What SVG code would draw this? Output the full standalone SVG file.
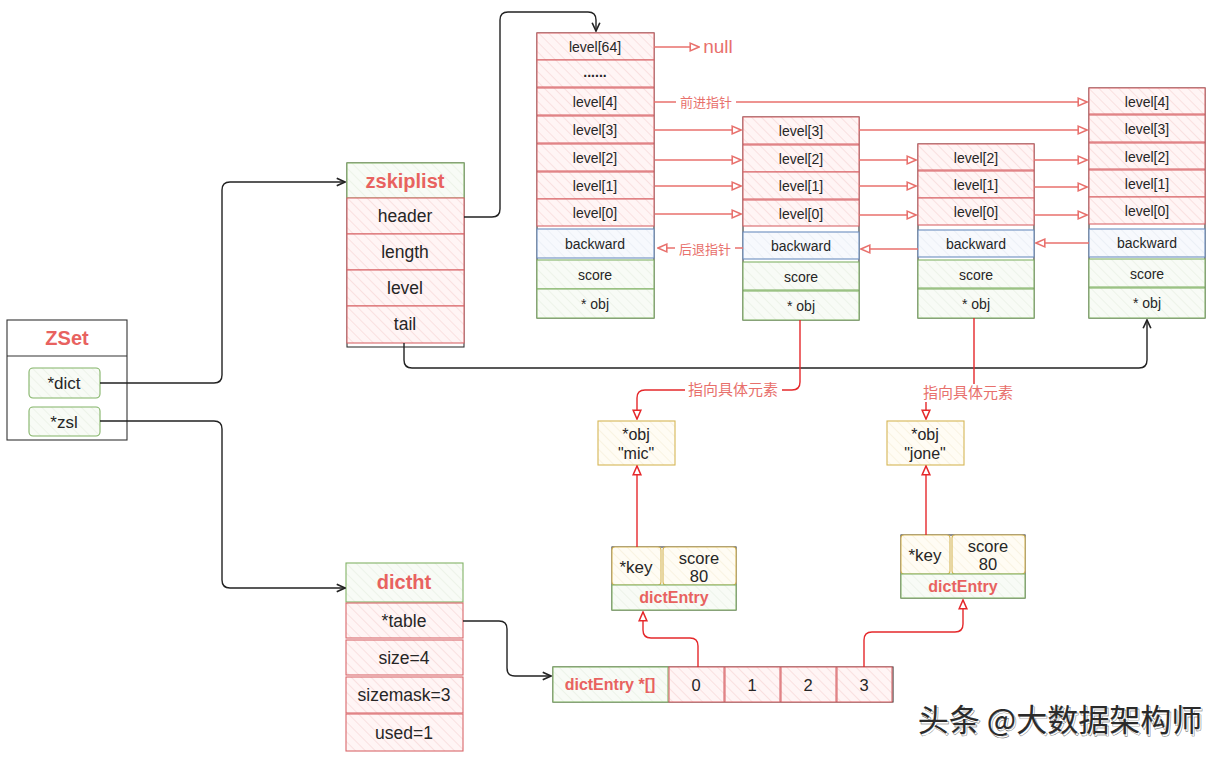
<svg xmlns="http://www.w3.org/2000/svg" width="1224" height="759" viewBox="0 0 1224 759">
<defs>
<pattern id="hR" patternUnits="userSpaceOnUse" width="7" height="7" patternTransform="rotate(-45)">
<rect width="7" height="7" fill="#fff5f5"/><line x1="0" y1="0" x2="0" y2="7" stroke="#f3cccc" stroke-width="1"/>
</pattern>
<pattern id="hG" patternUnits="userSpaceOnUse" width="7" height="7" patternTransform="rotate(-45)">
<rect width="7" height="7" fill="#f8fbf6"/><line x1="0" y1="0" x2="0" y2="7" stroke="#e2ebdd" stroke-width="1"/>
</pattern>
<pattern id="hB" patternUnits="userSpaceOnUse" width="7" height="7" patternTransform="rotate(-45)">
<rect width="7" height="7" fill="#f7f9fd"/><line x1="0" y1="0" x2="0" y2="7" stroke="#e1e7f0" stroke-width="1"/>
</pattern>
<pattern id="hY" patternUnits="userSpaceOnUse" width="7" height="7" patternTransform="rotate(-45)">
<rect width="7" height="7" fill="#fffcf4"/><line x1="0" y1="0" x2="0" y2="7" stroke="#f3ead0" stroke-width="1"/>
</pattern>
<marker id="aR" viewBox="0 0 10 10" refX="9" refY="5" markerWidth="11" markerHeight="11" markerUnits="userSpaceOnUse" orient="auto">
<path d="M1,1.5 L9,5 L1,8.5 Z" fill="#fff" stroke="#e8706c" stroke-width="1.4"/>
</marker>
<marker id="aRR" viewBox="0 0 10 10" refX="9" refY="5" markerWidth="11" markerHeight="11" markerUnits="userSpaceOnUse" orient="auto">
<path d="M1,1.5 L9,5 L1,8.5 Z" fill="#fff" stroke="#e5282b" stroke-width="1.4"/>
</marker>
<marker id="aK" viewBox="0 0 10 10" refX="9" refY="5" markerWidth="11" markerHeight="11" markerUnits="userSpaceOnUse" orient="auto">
<path d="M1.5,1.5 L9,5 L1.5,8.5" fill="none" stroke="#222" stroke-width="1.5"/>
</marker>
</defs>
<style>
text{font-family:"Liberation Sans",Arial,"Noto Sans CJK SC",sans-serif;fill:#262626;}
.t13{font-size:14px;text-anchor:middle;}
.t16{font-size:17.5px;text-anchor:middle;}
.t15{font-size:16.5px;text-anchor:middle;}
.ttl{font-size:20px;font-weight:bold;fill:#e8625f;text-anchor:middle;}
.ttl15{font-size:16px;font-weight:bold;fill:#e8625f;text-anchor:middle;}
.cn{font-family:"Noto Sans CJK SC","Liberation Sans",sans-serif;fill:#e8706c;text-anchor:middle;}
.r{fill:url(#hR);stroke:#d9666a;stroke-width:1.1;}
.g{fill:url(#hG);stroke:#82b366;stroke-width:1.1;}
.b{fill:url(#hB);stroke:#6c8ebf;stroke-width:1.1;}
.y{fill:url(#hY);stroke:#d6b656;stroke-width:1.1;}
.w{fill:#fff;stroke:#333;stroke-width:1.1;}
.o{fill:none;stroke:#333;stroke-width:1.1;}
.lk{fill:none;stroke:#222;stroke-width:1.4;}
.lr{fill:none;stroke:#e8706c;stroke-width:1.4;}
.lrr{fill:none;stroke:#e5282b;stroke-width:1.4;}
.bg{fill:#fff;}
</style>

<g id="zset">
<rect class="w" x="7" y="320" width="120" height="120"/>
<line class="o" x1="7" y1="356" x2="127" y2="356"/>
<text class="ttl" x="67" y="345">ZSet</text>
<rect class="g" x="29" y="368" width="71" height="30" rx="4"/>
<text class="t15" x="64" y="389" style="font-size:17px;">*dict</text>
<rect class="g" x="29" y="407" width="71" height="29" rx="4"/>
<text class="t15" x="64" y="428" style="font-size:17px;">*zsl</text>
</g>

<g id="zskiplist">
<rect class="o" x="347" y="163" width="117" height="184"/>
<rect class="g" x="347" y="163" width="117" height="35"/>
<text class="ttl" x="405" y="188">zskiplist</text>
<rect class="r" x="347" y="198" width="117" height="36"/>
<text class="t16" x="405" y="222">header</text>
<rect class="r" x="347" y="234" width="117" height="36"/>
<text class="t16" x="405" y="258">length</text>
<rect class="r" x="347" y="270" width="117" height="36"/>
<text class="t16" x="405" y="294">level</text>
<rect class="r" x="347" y="306" width="117" height="37"/>
<text class="t16" x="405" y="330">tail</text>
</g>

<g id="header-node">
<rect class="o" x="537" y="33" width="117" height="285"/>
<rect class="r" x="537" y="33" width="117" height="27"/>
<text class="t13" x="595" y="52">level[64]</text>
<rect class="r" x="537" y="60" width="117" height="27"/>
<text class="t13" x="595" y="77" style="font-weight:bold;">......</text>
<rect class="r" x="537" y="88" width="117" height="27"/>
<text class="t13" x="595" y="107">level[4]</text>
<rect class="r" x="537" y="116" width="117" height="27"/>
<text class="t13" x="595" y="135">level[3]</text>
<rect class="r" x="537" y="144" width="117" height="27"/>
<text class="t13" x="595" y="163">level[2]</text>
<rect class="r" x="537" y="172" width="117" height="27"/>
<text class="t13" x="595" y="191">level[1]</text>
<rect class="r" x="537" y="199" width="117" height="27"/>
<text class="t13" x="595" y="218">level[0]</text>
<rect class="b" x="537" y="229" width="117" height="29"/>
<text class="t13" x="595" y="249">backward</text>
<rect class="g" x="537" y="260" width="117" height="29"/>
<text class="t13" x="595" y="280">score</text>
<rect class="g" x="537" y="289" width="117" height="29"/>
<text class="t13" x="595" y="309">* obj</text>
</g>

<g id="node-mic">
<rect class="o" x="743" y="117" width="116" height="203"/>
<rect class="r" x="743" y="117" width="116" height="27"/>
<text class="t13" x="801" y="136">level[3]</text>
<rect class="r" x="743" y="145" width="116" height="27"/>
<text class="t13" x="801" y="164">level[2]</text>
<rect class="r" x="743" y="172" width="116" height="27"/>
<text class="t13" x="801" y="191">level[1]</text>
<rect class="r" x="743" y="200" width="116" height="26"/>
<text class="t13" x="801" y="219">level[0]</text>
<rect class="b" x="743" y="232" width="116" height="27"/>
<text class="t13" x="801" y="251">backward</text>
<rect class="g" x="743" y="262" width="116" height="28"/>
<text class="t13" x="801" y="282">score</text>
<rect class="g" x="743" y="291" width="116" height="29"/>
<text class="t13" x="801" y="311">* obj</text>
</g>

<g id="node-jone">
<rect class="o" x="918" y="144" width="116" height="174"/>
<rect class="r" x="918" y="144" width="116" height="26"/>
<text class="t13" x="976" y="163">level[2]</text>
<rect class="r" x="918" y="171" width="116" height="27"/>
<text class="t13" x="976" y="190">level[1]</text>
<rect class="r" x="918" y="198" width="116" height="27"/>
<text class="t13" x="976" y="217">level[0]</text>
<rect class="b" x="918" y="230" width="116" height="27"/>
<text class="t13" x="976" y="249">backward</text>
<rect class="g" x="918" y="260" width="116" height="28"/>
<text class="t13" x="976" y="280">score</text>
<rect class="g" x="918" y="289" width="116" height="29"/>
<text class="t13" x="976" y="309">* obj</text>
</g>

<g id="node-tail">
<rect class="o" x="1089" y="88" width="116" height="230"/>
<rect class="r" x="1089" y="88" width="116" height="26"/>
<text class="t13" x="1147" y="107">level[4]</text>
<rect class="r" x="1089" y="115" width="116" height="27"/>
<text class="t13" x="1147" y="134">level[3]</text>
<rect class="r" x="1089" y="143" width="116" height="26"/>
<text class="t13" x="1147" y="162">level[2]</text>
<rect class="r" x="1089" y="170" width="116" height="27"/>
<text class="t13" x="1147" y="189">level[1]</text>
<rect class="r" x="1089" y="197" width="116" height="27"/>
<text class="t13" x="1147" y="216">level[0]</text>
<rect class="b" x="1089" y="229" width="116" height="28"/>
<text class="t13" x="1147" y="248">backward</text>
<rect class="g" x="1089" y="259" width="116" height="28"/>
<text class="t13" x="1147" y="279">score</text>
<rect class="g" x="1089" y="288" width="116" height="30"/>
<text class="t13" x="1147" y="308">* obj</text>
</g>

<g id="obj-mic">
<rect class="y" x="598" y="421" width="77" height="44"/>
<text class="t15" x="636" y="440" style="font-size:16px;">*obj</text>
<text class="t15" x="636" y="459" style="font-size:16px;">"mic"</text>
</g>

<g id="obj-jone">
<rect class="y" x="887" y="421" width="77" height="44"/>
<text class="t15" x="925" y="440" style="font-size:16px;">*obj</text>
<text class="t15" x="925" y="459" style="font-size:16px;">"jone"</text>
</g>

<g id="dictentry-mic">
<rect class="o" x="612" y="547" width="124" height="63"/>
<rect class="y" x="612" y="547" width="49" height="38" rx="3"/>
<text class="t15" x="636" y="573" style="font-size:17px;">*key</text>
<rect class="y" x="663" y="547" width="73" height="38" rx="3"/>
<text class="t15" x="699" y="564">score</text>
<text class="t15" x="699" y="582">80</text>
<rect class="g" x="612" y="585" width="124" height="25"/>
<text class="ttl15" x="674" y="603">dictEntry</text>
</g>

<g id="dictentry-jone">
<rect class="o" x="901" y="535" width="124" height="63"/>
<rect class="y" x="901" y="535" width="49" height="39" rx="3"/>
<text class="t15" x="925" y="561" style="font-size:17px;">*key</text>
<rect class="y" x="952" y="535" width="73" height="39" rx="3"/>
<text class="t15" x="988" y="552">score</text>
<text class="t15" x="988" y="570">80</text>
<rect class="g" x="901" y="574" width="124" height="24"/>
<text class="ttl15" x="963" y="592">dictEntry</text>
</g>

<g id="dictht">
<rect class="g" x="346" y="563" width="117" height="39"/>
<text class="ttl" x="404" y="589">dictht</text>
<rect class="r" x="346" y="603" width="117" height="35"/>
<text class="t16" x="404" y="627">*table</text>
<rect class="r" x="346" y="640" width="117" height="35"/>
<text class="t16" x="404" y="664">size=4</text>
<rect class="r" x="346" y="677" width="117" height="36"/>
<text class="t16" x="404" y="701">sizemask=3</text>
<rect class="r" x="346" y="714" width="117" height="37"/>
<text class="t16" x="404" y="739">used=1</text>
</g>

<g id="table-array">
<rect class="o" x="553" y="667" width="340" height="35"/>
<rect class="g" x="553" y="667" width="115" height="35"/>
<text class="ttl15" x="610" y="690">dictEntry *[]</text>
<rect class="r" x="669" y="667" width="55" height="35"/>
<text class="t15" x="696" y="691">0</text>
<rect class="r" x="725" y="667" width="55" height="35"/>
<text class="t15" x="752" y="691">1</text>
<rect class="r" x="781" y="667" width="55" height="35"/>
<text class="t15" x="808" y="691">2</text>
<rect class="r" x="837" y="667" width="55" height="35"/>
<text class="t15" x="864" y="691">3</text>
</g>

<g id="connectors">
<path class="lk" d="M100,383 H214 Q222,383 222,375 V190 Q222,182 230,182 H345" marker-end="url(#aK)"/>
<path class="lk" d="M100,421 H214 Q222,421 222,429 V580 Q222,588 230,588 H345" marker-end="url(#aK)"/>
<path class="lk" d="M464,217 H492 Q500,217 500,209 V20 Q500,12 508,12 H588 Q596,12 596,20 V31" marker-end="url(#aK)"/>
<path class="lk" d="M404,343 V360 Q404,368 412,368 H1139 Q1147,368 1147,360 V320" marker-end="url(#aK)"/>
<path class="lk" d="M463,621 H499 Q507,621 507,629 V668 Q507,676 515,676 H551" marker-end="url(#aK)"/>

<path class="lr" d="M654,47 H699" marker-end="url(#aR)"/>
<path class="lr" d="M654,102 H1087" marker-end="url(#aR)"/>
<path class="lr" d="M654,130 H741" marker-end="url(#aR)"/>
<path class="lr" d="M655,160 H741" marker-end="url(#aR)"/>
<path class="lr" d="M655,186 H741" marker-end="url(#aR)"/>
<path class="lr" d="M655,214 H741" marker-end="url(#aR)"/>
<path class="lr" d="M859,130 H1087" marker-end="url(#aR)"/>
<path class="lr" d="M859,160 H916" marker-end="url(#aR)"/>
<path class="lr" d="M859,186 H916" marker-end="url(#aR)"/>
<path class="lr" d="M859,215 H916" marker-end="url(#aR)"/>
<path class="lr" d="M1034,160 H1087" marker-end="url(#aR)"/>
<path class="lr" d="M1034,187 H1087" marker-end="url(#aR)"/>
<path class="lr" d="M1034,215 H1087" marker-end="url(#aR)"/>
<path class="lr" d="M1089,243 H1036" marker-end="url(#aR)"/>
<path class="lr" d="M918,249 H861" marker-end="url(#aR)"/>
<path class="lr" d="M743,248 H658" marker-end="url(#aR)"/>

<path class="lrr" d="M800,320 V382 Q800,390 792,390 H645 Q637,390 637,398 V419" marker-end="url(#aRR)"/>
<path class="lrr" d="M974,318 V393 H926 V419" marker-end="url(#aRR)"/>
<path class="lrr" d="M637,547 V466" marker-end="url(#aRR)"/>
<path class="lrr" d="M926,535 V466" marker-end="url(#aRR)"/>
<path class="lrr" d="M698,667 V646 Q698,638 690,638 H651 Q643,638 643,630 V612" marker-end="url(#aRR)"/>
<path class="lrr" d="M864,667 V640 Q864,632 872,632 H955 Q963,632 963,624 V600" marker-end="url(#aRR)"/>

<text x="718" y="53" style="font-size:19px;fill:#e8706c;text-anchor:middle;">null</text>
<rect class="bg" x="676" y="93" width="60" height="17"/>
<text class="cn" x="706" y="107" style="font-size:13px;">前进指针</text>
<rect class="bg" x="675" y="240" width="60" height="17"/>
<text class="cn" x="705" y="254" style="font-size:13px;">后退指针</text>
<rect class="bg" x="685" y="381" width="97" height="18"/>
<text class="cn" x="733" y="395" style="font-size:15px;">指向具体元素</text>
<rect class="bg" x="920" y="384" width="97" height="18"/>
<text class="cn" x="968" y="398" style="font-size:15px;">指向具体元素</text>
</g>

<text x="1060" y="731" style="font-family:'Noto Sans CJK SC',sans-serif;font-size:31px;fill:#fff;stroke:#555;stroke-width:0.4;text-anchor:middle;" dx="1.5" dy="1.5">头条 @大数据架构师</text>
<text x="1060" y="731" style="font-family:'Noto Sans CJK SC',sans-serif;font-size:31px;fill:#2b2b2b;text-anchor:middle;">头条 @大数据架构师</text>
</svg>
